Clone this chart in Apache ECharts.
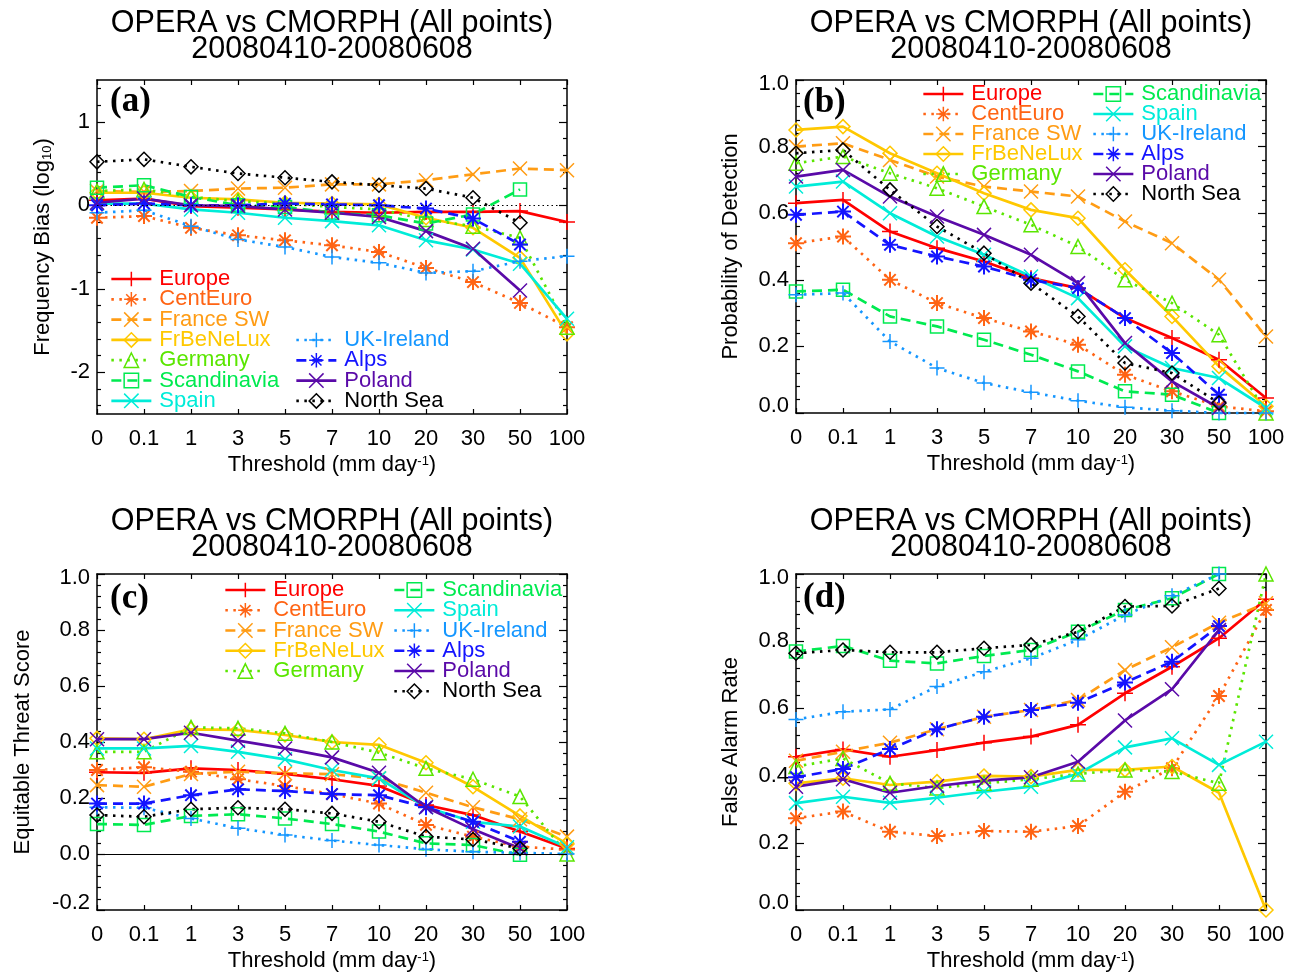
<!DOCTYPE html>
<html><head><meta charset="utf-8">
<script src="https://cdn.jsdelivr.net/npm/echarts@6/dist/echarts.min.js"></script>
<style>html,body{margin:0;padding:0;background:#fff}#c{width:1295px;height:973px}</style>
</head><body><div id="c"></div>
<script>
// ---------------- data ----------------
const categories = ['0', '0.1', '1', '3', '5', '7', '10', '20', '30', '50', '100'];
const regions = ['Europe', 'CentEuro', 'France SW', 'FrBeNeLux', 'Germany', 'Scandinavia', 'Spain', 'UK-Ireland', 'Alps', 'Poland', 'North Sea'];

// (a) Frequency bias (log10), one row per region (order as in regions)
const biasValues = [
  [0.06, 0.08, -0.01, -0.03, -0.05, -0.08, -0.09, -0.08, -0.08, -0.07, -0.20],
  [-0.15, -0.13, -0.27, -0.36, -0.42, -0.48, -0.56, -0.75, -0.92, -1.17, -1.46],
  [0.17, 0.16, 0.17, 0.20, 0.21, 0.25, 0.25, 0.30, 0.37, 0.44, 0.42],
  [0.15, 0.15, 0.09, 0.07, 0.03, 0.02, 0.01, -0.15, -0.27, -0.63, -1.54],
  [0.17, 0.19, 0.10, 0.05, 0.02, -0.02, -0.05, -0.17, -0.25, -0.39, -1.46],
  [0.21, 0.24, 0.10, 0.00, -0.02, -0.09, -0.12, -0.22, -0.11, 0.19, null],
  [0.02, 0.02, -0.05, -0.09, -0.15, -0.19, -0.24, -0.42, -0.53, -0.70, -1.36],
  [-0.09, -0.06, -0.25, -0.41, -0.50, -0.62, -0.69, -0.81, -0.79, -0.67, -0.61],
  [0.00, 0.02, 0.00, 0.00, 0.02, 0.01, 0.00, -0.04, -0.16, -0.47, null],
  [0.03, 0.08, 0.00, -0.01, -0.05, -0.09, -0.14, -0.31, -0.52, -1.02, null],
  [0.52, 0.55, 0.46, 0.38, 0.33, 0.28, 0.24, 0.20, 0.09, -0.21, null]
];
// (b) Probability of detection
const podValues = [
  [0.63, 0.64, 0.545, 0.495, 0.455, 0.405, 0.375, 0.285, 0.225, 0.16, 0.045],
  [0.51, 0.53, 0.40, 0.33, 0.285, 0.245, 0.205, 0.115, 0.065, 0.02, 0.005],
  [0.80, 0.81, 0.76, 0.71, 0.68, 0.665, 0.65, 0.575, 0.51, 0.40, 0.23],
  [0.85, 0.86, 0.78, 0.72, 0.66, 0.61, 0.585, 0.43, 0.29, 0.14, 0.02],
  [0.75, 0.77, 0.72, 0.675, 0.62, 0.565, 0.50, 0.40, 0.33, 0.235, 0.0],
  [0.365, 0.37, 0.29, 0.26, 0.22, 0.175, 0.125, 0.065, 0.055, 0.0, null],
  [0.68, 0.695, 0.60, 0.53, 0.475, 0.41, 0.345, 0.20, 0.135, 0.105, 0.015],
  [0.355, 0.36, 0.215, 0.135, 0.09, 0.062, 0.037, 0.017, 0.007, 0.0, 0.0],
  [0.595, 0.605, 0.505, 0.47, 0.44, 0.40, 0.375, 0.285, 0.18, 0.055, null],
  [0.71, 0.73, 0.65, 0.59, 0.535, 0.475, 0.39, 0.21, 0.095, 0.015, null],
  [0.78, 0.79, 0.67, 0.56, 0.48, 0.39, 0.29, 0.15, 0.12, 0.03, null]
];
// (c) Equitable threat score
const etsValues = [
  [0.292, 0.29, 0.306, 0.30, 0.286, 0.267, 0.243, 0.175, 0.139, 0.08, 0.02],
  [0.30, 0.31, 0.294, 0.267, 0.243, 0.214, 0.18, 0.104, 0.062, 0.026, 0.016],
  [0.246, 0.24, 0.286, 0.294, 0.288, 0.285, 0.27, 0.219, 0.167, 0.124, 0.062],
  [0.413, 0.41, 0.445, 0.443, 0.425, 0.40, 0.39, 0.326, 0.24, 0.136, 0.036],
  [0.365, 0.365, 0.452, 0.449, 0.431, 0.40, 0.362, 0.306, 0.267, 0.205, 0.0],
  [0.107, 0.104, 0.136, 0.142, 0.127, 0.107, 0.08, 0.038, 0.032, -0.003, null],
  [0.377, 0.377, 0.386, 0.365, 0.338, 0.30, 0.27, 0.167, 0.115, 0.098, 0.024],
  [0.167, 0.165, 0.127, 0.092, 0.068, 0.048, 0.032, 0.017, 0.008, 0.004, 0.0],
  [0.18, 0.18, 0.21, 0.231, 0.225, 0.214, 0.21, 0.167, 0.115, 0.044, null],
  [0.41, 0.41, 0.433, 0.405, 0.377, 0.345, 0.29, 0.167, 0.088, 0.02, null],
  [0.139, 0.133, 0.16, 0.165, 0.16, 0.145, 0.115, 0.062, 0.052, 0.02, null]
];
// (d) False alarm rate
const farValues = [
  [0.456, 0.478, 0.456, 0.476, 0.498, 0.516, 0.551, 0.645, 0.724, 0.809, 0.925],
  [0.273, 0.293, 0.233, 0.22, 0.235, 0.233, 0.25, 0.352, 0.422, 0.637, 0.893],
  [0.444, 0.471, 0.498, 0.538, 0.575, 0.595, 0.625, 0.714, 0.782, 0.855, 0.913],
  [0.377, 0.392, 0.372, 0.382, 0.399, 0.397, 0.417, 0.417, 0.427, 0.349, 0.0],
  [0.427, 0.451, 0.377, 0.363, 0.377, 0.389, 0.405, 0.417, 0.412, 0.377, 1.0],
  [0.769, 0.786, 0.742, 0.734, 0.756, 0.774, 0.828, 0.893, 0.928, 1.0, null],
  [0.318, 0.337, 0.319, 0.334, 0.352, 0.367, 0.405, 0.484, 0.511, 0.432, 0.501],
  [0.567, 0.59, 0.597, 0.665, 0.709, 0.749, 0.804, 0.878, 0.935, 1.0, null],
  [0.395, 0.42, 0.479, 0.538, 0.575, 0.595, 0.617, 0.677, 0.739, 0.845, null],
  [0.367, 0.389, 0.349, 0.369, 0.385, 0.395, 0.441, 0.564, 0.657, 0.833, null],
  [0.764, 0.774, 0.767, 0.767, 0.779, 0.789, 0.828, 0.903, 0.905, 0.957, null]
];
const biasTicks = [-2, -1, 0, 1];
const biasMinorTicks = [-2.4, -2.2, -1.8, -1.6, -1.4, -1.2, -0.8, -0.6, -0.4, -0.2, 0.2, 0.4, 0.6, 0.8, 1.2, 1.4];

// ---------------- styles ----------------
const FONT = '"Liberation Sans", Arial, Helvetica, sans-serif';
const colors = ['#ff0000', '#ff6414', '#ff9c14', '#ffc800', '#5ae600', '#00ea50', '#00ecd8', '#1496ff', '#1414ff', '#5a0aa8', '#000000'];
const DOT = [2.5, 5.5], DASH = [10, 6];
const dashes = ['solid', DOT, DASH, 'solid', DOT, DASH, 'solid', DOT, DASH, 'solid', DOT];
const PLUS = 'path://M0,-8L0,8M-8,0L8,0';
const STAR = 'path://M0,-8L0,8M-8,0L8,0M-5.7,-5.7L5.7,5.7M-5.7,5.7L5.7,-5.7';
const XMK = 'path://M-8,-8L8,8M-8,8L8,-8';
const DIAM = 'path://M0,-8L8,0L0,8L-8,0Z';
const markers = [PLUS, STAR, XMK, DIAM, 'triangle', 'rect', XMK, PLUS, STAR, XMK, DIAM];
const markerSizes = [16, 16, 14, 14, 14, 13, 14, 15, 16, 14, 14];
const markerWidths = [1.5, 2, 1.5, 1.5, 1.5, 1.5, 1.5, 1.5, 2, 1.5, 1.5];

const grids = [
  { left: 97, top: 80, width: 470, height: 334 },
  { left: 796, top: 80, width: 470, height: 333 },
  { left: 97, top: 574, width: 470, height: 336 },
  { left: 796, top: 574, width: 470, height: 336 }
];
const yRanges = [[-2.5, 1.5], [0, 1], [-0.2, 1.0], [0, 1]];
const yNames = ['Frequency Bias (log{sub|10})', 'Probability of Detection', 'Equitable Threat Score', 'False Alarm Rate'];
const yNameGaps = [43, 54, 63, 54];
const panelData = [biasValues, podValues, etsValues, farValues];

const axisLineStyle = { color: '#000', width: 1.5 };
const tickStyle = { color: '#000', width: 1.2 };
const labelBase = { fontSize: 22, color: '#000', fontFamily: FONT };

const xAxes = [], yAxes = [], series = [], legends = [], graphics = [];

// bottom x axes (0..3)
grids.forEach((g, p) => {
  xAxes.push({
    type: 'category', gridIndex: p, data: categories, boundaryGap: false, position: 'bottom',
    axisLine: { onZero: false, lineStyle: axisLineStyle },
    axisTick: { inside: true, length: 5, interval: 0, lineStyle: tickStyle },
    axisLabel: Object.assign({ interval: 0, margin: 14, showMinLabel: true, showMaxLabel: true }, labelBase),
    splitLine: { show: false },
    name: 'Threshold (mm day{sup|-1})', nameLocation: 'middle', nameGap: 40,
    nameTextStyle: Object.assign({ rich: { sup: { fontSize: 13, fontFamily: FONT, color: '#000', padding: [0, 0, 8, 0] } } }, labelBase)
  });
});
// top x axes (4..7)
grids.forEach((g, p) => {
  xAxes.push({
    type: 'category', gridIndex: p, data: categories, boundaryGap: false, position: 'top',
    axisLine: { onZero: false, lineStyle: axisLineStyle },
    axisTick: { inside: true, length: 5, interval: 0, lineStyle: tickStyle },
    axisLabel: { show: false }, splitLine: { show: false }
  });
});

function edgeFormatter(min, max) {
  return function (v) {
    const s = v.toFixed(1);
    if (Math.abs(v - max) < 1e-9) return '{t|' + s + '}';
    if (Math.abs(v - min) < 1e-9) return '{b|' + s + '}';
    return s;
  };
}
const edgeRich = {
  t: { fontSize: 22, fontFamily: FONT, color: '#000', padding: [8, 0, 0, 0] },
  b: { fontSize: 22, fontFamily: FONT, color: '#000', padding: [0, 0, 14, 0] }
};

// left y axes (0..3), right y axes (4..7)
['left', 'right'].forEach(side => {
  grids.forEach((g, p) => {
    const [mn, mx] = yRanges[p];
    const ax = {
      type: 'value', gridIndex: p, position: side, min: mn, max: mx,
      axisLine: { show: true, onZero: false, lineStyle: axisLineStyle },
      splitLine: { show: false }
    };
    if (p === 0) {
      ax.axisTick = { show: true, inside: true, length: 8, customValues: biasTicks, lineStyle: tickStyle };
      ax.axisLabel = side === 'left' ? Object.assign({ customValues: biasTicks, margin: 7 }, labelBase) : { show: false };
    } else {
      ax.interval = 0.2;
      ax.axisTick = { show: true, inside: true, length: 8, lineStyle: tickStyle };
      ax.minorTick = { show: true, splitNumber: 5, length: 4, lineStyle: tickStyle };
      ax.axisLabel = side === 'left'
        ? Object.assign({ margin: 7, formatter: edgeFormatter(mn, mx), rich: edgeRich }, labelBase)
        : { show: false };
    }
    if (side === 'left') {
      ax.name = yNames[p];
      ax.nameLocation = 'middle';
      ax.nameGap = yNameGaps[p];
      ax.nameTextStyle = Object.assign({ rich: { sub: { fontSize: 13, fontFamily: FONT, color: '#000', padding: [8, 0, 0, 0] } } }, labelBase);
    }
    yAxes.push(ax);
  });
});
// minor tick axes for panel (a): 8 (left), 9 (right)
['left', 'right'].forEach(side => {
  yAxes.push({
    type: 'value', gridIndex: 0, position: side, min: yRanges[0][0], max: yRanges[0][1],
    axisLine: { show: false },
    axisTick: { show: true, inside: true, length: 4, customValues: biasMinorTicks, lineStyle: tickStyle },
    axisLabel: { show: false }, splitLine: { show: false }
  });
});

// series
panelData.forEach((pd, p) => {
  regions.forEach((name, i) => {
    const s = {
      type: 'line', name: name, xAxisIndex: p, yAxisIndex: p, data: pd[i], clip: false,
      symbol: markers[i], symbolSize: markerSizes[i], showSymbol: true, showAllSymbol: true,
      connectNulls: false, animation: false,
      lineStyle: { color: colors[i], width: 2.7, type: dashes[i] },
      itemStyle: { color: 'rgba(0,0,0,0)', borderColor: colors[i], borderWidth: markerWidths[i] },
      emphasis: { disabled: true }
    };
    if (i === 0 && p === 0) {
      s.markLine = { silent: true, symbol: 'none', label: { show: false }, animation: false,
        lineStyle: { color: '#000', width: 1, type: [1.5, 3] }, data: [{ yAxis: 0 }] };
    }
    if (i === 0 && p === 2) {
      s.markLine = { silent: true, symbol: 'none', label: { show: false }, animation: false,
        lineStyle: { color: '#000', width: 1, type: 'solid' }, data: [{ yAxis: 0 }] };
    }
    series.push(s);
  });
});

// legends
function legendItems(idx) {
  return idx.map(i => ({ name: regions[i], textStyle: { color: colors[i] } }));
}
const legendSpecs = [
  { left: 110, top: 268, items: [0, 1, 2, 3, 4, 5, 6], gap: -1.7 },
  { left: 295, top: 329, items: [7, 8, 9, 10], gap: -1.7 },
  { left: 922, top: 83, items: [0, 1, 2, 3, 4], gap: -2 },
  { left: 1092, top: 83, items: [5, 6, 7, 8, 9, 10], gap: -2 },
  { left: 224, top: 579, items: [0, 1, 2, 3, 4], gap: -1.75 },
  { left: 393, top: 579, items: [5, 6, 7, 8, 9, 10], gap: -1.75 }
];
legendSpecs.forEach(L => {
  legends.push({
    orient: 'vertical', left: L.left, top: L.top, itemWidth: 40, itemHeight: 18, itemGap: L.gap,
    padding: 0, selectedMode: false, data: legendItems(L.items),
    textStyle: { fontSize: 22, fontFamily: FONT, lineHeight: 20, padding: [0, 0, 0, 3] },
    lineStyle: { width: 2.7 }, itemStyle: { borderWidth: 1.5 }
  });
});

// titles & panel labels
const titleCenters = [[332, 24], [1031, 24], [332, 522], [1031, 522]];
const panelLabels = ['(a)', '(b)', '(c)', '(d)'];
const panelLabelPos = [[110, 102], [803, 103], [110, 599], [803, 598]];
titleCenters.forEach(([cx, cy], p) => {
  graphics.push({ type: 'text', x: cx, y: cy, silent: true,
    style: { text: 'OPERA vs CMORPH (All points)', font: '30.5px ' + FONT, textAlign: 'center', textVerticalAlign: 'middle', fill: '#000' } });
  graphics.push({ type: 'text', x: cx, y: cy + 26, silent: true,
    style: { text: '20080410-20080608', font: '30.5px ' + FONT, textAlign: 'center', textVerticalAlign: 'middle', fill: '#000' } });
  graphics.push({ type: 'text', x: panelLabelPos[p][0], y: panelLabelPos[p][1], silent: true,
    style: { text: panelLabels[p], font: 'bold 35px "Liberation Serif", "Times New Roman", serif', textAlign: 'left', textVerticalAlign: 'middle', fill: '#000' } });
});

const chart = echarts.init(document.getElementById('c'));
chart.setOption({
  animation: false,
  backgroundColor: '#fff',
  grid: grids,
  xAxis: xAxes,
  yAxis: yAxes,
  legend: legends,
  series: series,
  graphic: graphics
});
</script></body></html>
